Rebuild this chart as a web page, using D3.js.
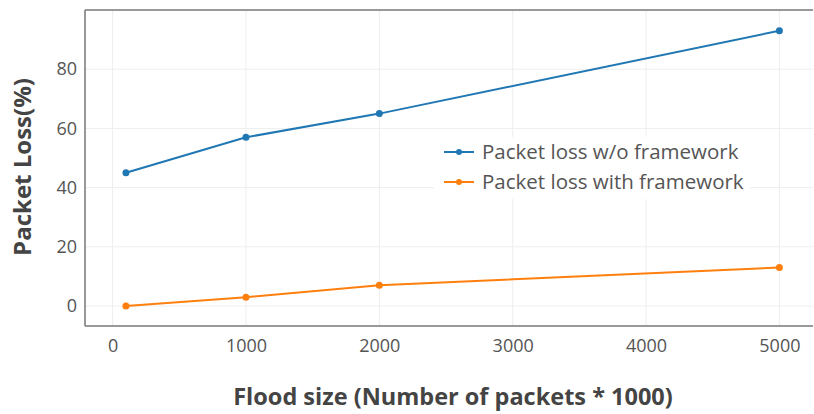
<!doctype html>
<html lang="en">
<head>
<meta charset="UTF-8">
<title>Packet loss</title>
<style>
  body { margin: 0; background: #fff; }
  text { font-family: "Open Sans", "Noto Sans", sans-serif; }
</style>
</head>
<body>
<svg width="814" height="414"></svg>
<script src="https://cdn.jsdelivr.net/npm/d3@7"></script>
<script>
var floodSizes = [100, 1000, 2000, 5000];
var lossWithout = [45, 57, 65, 93];
var lossWith = [0, 3, 7, 13];
var seriesNames = ['Packet loss w/o framework', 'Packet loss with framework'];
var seriesColors = ['#1f77b4', '#ff7f0e'];
var xTicks = [0, 1000, 2000, 3000, 4000, 5000];
var yTicks = [0, 20, 40, 60, 80];

var svg = d3.select('svg');
var plotLeft = 85, plotRight = 813, plotTop = 10, plotBottom = 326;

var x = d3.scaleLinear().domain([-207, 5252]).range([plotLeft, plotRight]);
var y = d3.scaleLinear().domain([-6.75, 100]).range([plotBottom, plotTop]);

// grid
var grid = svg.append('g');
grid.selectAll('.gx').data(xTicks).enter().append('line')
    .attr('x1', function(d) { return x(d); })
    .attr('x2', function(d) { return x(d); })
    .attr('y1', plotTop).attr('y2', plotBottom)
    .attr('stroke', '#eee').attr('stroke-width', 1);
grid.selectAll('.gy').data(yTicks).enter().append('line')
    .attr('x1', plotLeft).attr('x2', plotRight)
    .attr('y1', function(d) { return y(d); })
    .attr('y2', function(d) { return y(d); })
    .attr('stroke', '#eee').attr('stroke-width', 1);

// axes
var xAxis = svg.append('g')
    .attr('transform', 'translate(0,' + plotBottom + ')')
    .call(d3.axisBottom(x).tickValues(xTicks).tickSize(0).tickPadding(10).tickFormat(d3.format('d')));
var yAxis = svg.append('g')
    .attr('transform', 'translate(' + plotLeft + ',0)')
    .call(d3.axisLeft(y).tickValues(yTicks).tickSize(0).tickPadding(8));
[xAxis, yAxis].forEach(function(a) {
    a.select('.domain').remove();
    a.selectAll('text').style('font-size', '18px').attr('fill', '#555')
        .style('font-family', '"Open Sans", sans-serif');
});
xAxis.selectAll('text').attr('dy', '0.9em');

// frame lines
svg.append('line').attr('x1', plotLeft).attr('x2', plotRight).attr('y1', plotTop).attr('y2', plotTop)
    .attr('stroke', '#777').attr('stroke-width', 1.5);
svg.append('line').attr('x1', plotLeft).attr('x2', plotRight).attr('y1', plotBottom).attr('y2', plotBottom)
    .attr('stroke', '#777').attr('stroke-width', 1.5);
svg.append('line').attr('x1', plotLeft).attr('x2', plotLeft).attr('y1', plotTop).attr('y2', plotBottom)
    .attr('stroke', '#777').attr('stroke-width', 1.5);

// lines
var line = d3.line()
    .x(function(d, i) { return x(floodSizes[i]); })
    .y(function(d) { return y(d); });
[lossWithout, lossWith].forEach(function(series, k) {
    var g = svg.append('g');
    g.append('path')
        .attr('d', line(series))
        .attr('fill', 'none')
        .attr('stroke', seriesColors[k])
        .attr('stroke-width', 2);
    g.selectAll('circle').data(series).enter().append('circle')
        .attr('cx', function(d, i) { return x(floodSizes[i]); })
        .attr('cy', function(d) { return y(d); })
        .attr('r', 3.5)
        .attr('fill', seriesColors[k]);
});

// legend
var legend = svg.append('g').attr('transform', 'translate(434,137)');
legend.append('rect').attr('x', 0).attr('y', 0).attr('width', 316).attr('height', 62).attr('fill', '#fff');
seriesNames.forEach(function(name, k) {
    var row = legend.append('g').attr('transform', 'translate(0,' + (15 + k * 30) + ')');
    row.append('line').attr('x1', 10).attr('x2', 40).attr('y1', 0).attr('y2', 0)
        .attr('stroke', seriesColors[k]).attr('stroke-width', 2);
    row.append('circle').attr('cx', 25).attr('cy', 0).attr('r', 3).attr('fill', seriesColors[k]);
    row.append('text').attr('x', 48).attr('y', 0).attr('dy', '0.35em')
        .style('font-size', '20.5px').attr('fill', '#555').text(name);
});

// titles
svg.append('text')
    .attr('transform', 'translate(31,167) rotate(-90)')
    .attr('text-anchor', 'middle')
    .style('font-size', '24px').style('font-weight', 'bold').attr('fill', '#444')
    .text('Packet Loss(%)');
svg.append('text')
    .attr('x', 453).attr('y', 405)
    .attr('text-anchor', 'middle')
    .style('font-size', '23.5px').style('font-weight', 'bold').attr('fill', '#444')
    .text('Flood size (Number of packets * 1000)');
</script>
</body>
</html>
